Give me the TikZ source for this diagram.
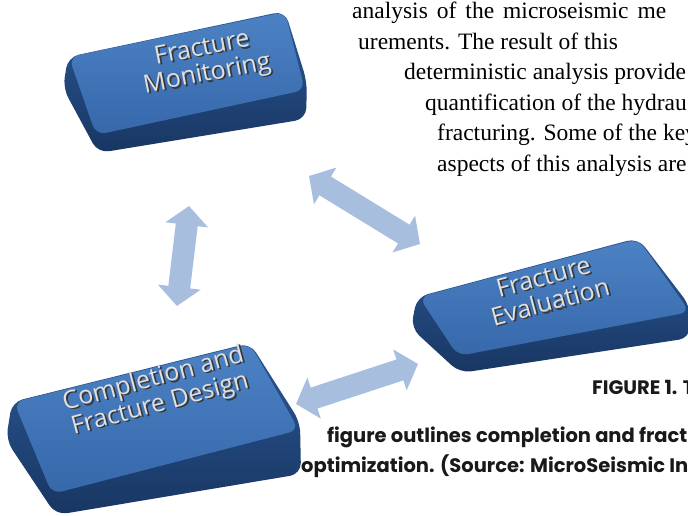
\documentclass[tikz,border=0pt]{standalone}
\usepackage{fontspec}
\setmainfont{Liberation Serif}
\newfontfamily\keyfont{Open Sans}
\newfontfamily\capfont{Poppins}
\usepackage{xcolor}
\usepackage{tikz}
\usetikzlibrary{arrows.meta}

\definecolor{keylight}{RGB}{76,130,196}
\definecolor{keytop}{RGB}{54,104,170}
\definecolor{keyside}{RGB}{44,88,150}
\definecolor{keydark}{RGB}{24,54,98}
\definecolor{keylabel}{RGB}{224,224,224}
\definecolor{keyshadow}{RGB}{55,55,55}
\definecolor{arrowblue}{RGB}{168,190,223}
\definecolor{captext}{RGB}{25,25,25}

% embossed label text: dark copy slightly below, light copy on top
\newcommand\emboss[1]{\makebox[0pt][l]{\hspace{1.6pt}\raisebox{-1.6pt}{\textcolor{keyshadow}{#1}}}#1}

\tikzstyle{keybase} = [rounded corners=11pt,top color=keyside,bottom color=keydark]
\tikzstyle{keyface} = [rounded corners=10pt,top color=keylight,bottom color=keytop]
\tikzstyle{keytext} = [align=center,inner sep=0pt,text=keylabel,font=\keyfont\fontsize{25}{26}\selectfont]
\tikzstyle{blockarrow} = [line width=22pt,draw=arrowblue,arrows={Triangle[width=42pt,length=19pt]-Triangle[width=42pt,length=19pt]}]
\tikzstyle{para} = [anchor=base west,inner sep=0pt,font=\fontsize{23.5}{30}\selectfont]
\tikzstyle{caption} = [anchor=base west,inner sep=0pt,text=captext,font=\capfont\bfseries\fontsize{19.5}{30}\selectfont]

\begin{document}
\begin{tikzpicture}[x=1pt,y=-1pt]
	\useasboundingbox (0,0) rectangle (688,516);
	\clip (0,0) rectangle (688,516);
	\fill[white] (0,0) rectangle (688,516);

	% Keys:
	% each key is a dark base with a lighter top face on it
	\path[keybase] (68,57) -- (285,11) -- (307,82) -- (306,119) -- (98,153) -- (63,88) -- cycle;
	\path[keyface] (69,57) -- (285,12) -- (305,90) -- (96,135) -- cycle;
	\node[keytext,rotate=11] (monitoring) at (205,63) {\emboss{Fracture}\\\emboss{Monitoring}};

	\path[keybase] (417,297) -- (638,238) -- (690,306) -- (690,338) -- (460,373) -- (411,328) -- cycle;
	\path[keyface] (419,297) -- (638,239) -- (690,312) -- (458,356) -- cycle;
	\node[keytext,rotate=15] (evaluation) at (547,290) {\emboss{Fracture}\hspace{10pt}\\\emboss{Evaluation}};

	\path[keybase] (12,402) -- (250,343) -- (300,422) -- (301,474) -- (56,515) -- (6,440) -- cycle;
	\path[keyface] (14,402) -- (250,344) -- (299,430) -- (52,494) -- cycle;
	\node[keytext,rotate=15] (design) at (157,393) {\emboss{Completion and}\\\emboss{Fracture Design}};

	% Arrows:
	% ends of the block arrows between the keys
	\coordinate (mon-s) at (189,206);
	\coordinate (des-n) at (177,306);
	\coordinate (mon-se) at (309,176);
	\coordinate (eval-nw) at (420,244);
	\coordinate (des-e) at (296,404);
	\coordinate (eval-w) at (418,364);
	\draw[blockarrow] (des-n) -- (mon-s);
	\draw[blockarrow] (mon-se) -- (eval-nw);
	\draw[blockarrow] (des-e) -- (eval-w);

	% Text of the page around the figure:
	\node[para] (line1) at (352,19) {\makebox[314pt][s]{analysis of the microseismic me}};
	\node[para] (line2) at (358,49.5) {urements. The result of this};
	\node[para] (line3) at (404,80) {deterministic analysis provide};
	\node[para] (line4) at (425,110.5) {quantification of the hydrau};
	\node[para] (line5) at (437,141) {fracturing. Some of the key};
	\node[para] (line6) at (437,171.5) {aspects of this analysis are};

	\node[caption] (fig) at (592,394) {FIGURE 1. T};
	\node[caption] (cap1) at (327,442) {figure outlines completion and fract};
	\node[caption] (cap2) at (301,472) {optimization. (Source: MicroSeismic In};
\end{tikzpicture}
\end{document}
